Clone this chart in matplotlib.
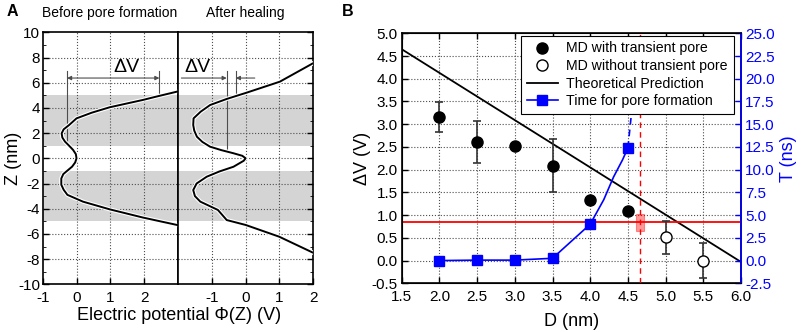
import numpy as np
import matplotlib.pyplot as plt
import matplotlib.patheffects as pe
from matplotlib.lines import Line2D
from matplotlib.patches import Rectangle

plt.rcParams['font.family'] = ['Liberation Sans', 'DejaVu Sans']
plt.rcParams['axes.unicode_minus'] = False

# ---- panel A: potential profiles ----
before_z = [5.29, 4.89, 4.63, 4.05, 3.62, 3.17, 2.64, 2.30, 1.98, 1.65, 1.32, 1.00, 0.66, 0.33, 0.0,
            -0.33, -0.66, -1.00, -1.25, -1.60, -2.10, -2.50, -2.90, -3.44, -4.05, -4.70, -5.29]
before_v = [2.97, 2.35, 1.96, 0.98, 0.45, 0.0, -0.22, -0.38, -0.44, -0.42, -0.34, -0.22, -0.10, -0.02, 0.0,
            -0.04, -0.13, -0.28, -0.39, -0.45, -0.45, -0.38, -0.27, 0.19, 0.98, 1.96, 2.97]
after_z = [7.54, 6.08, 5.21, 4.71, 4.23, 3.70, 3.17, 2.64, 2.20, 1.71, 1.30, 0.92, 0.65, 0.40, 0.20, 0.0,
           -0.20, -0.67, -1.05, -1.46, -2.00, -2.52, -3.00, -3.44, -4.10, -4.90, -5.29, -6.22, -7.49]
after_v = [1.99, 1.01, 0.03, -0.56, -1.05, -1.33, -1.54, -1.55, -1.52, -1.44, -1.28, -1.05, -0.72, -0.36, -0.10, 0.0,
           -0.06, -0.36, -0.78, -1.15, -1.45, -1.55, -1.50, -1.34, -0.82, -0.56, 0.0, 0.99, 1.99]
bands = [(1, 5), (-5, -1)]

# ---- panel B ----
d_pore = [2.0, 2.5, 3.0, 3.5, 4.0, 4.5]
dv_pore = [3.15, 2.60, 2.52, 2.09, 1.33, 1.08]
dv_pore_err = [0.33, 0.46, 0.0, 0.58, 0.0, 0.0]
d_nopore = [5.0, 5.5]
dv_nopore = [0.51, 0.0]
dv_nopore_err = [0.36, 0.38]
theory_d = [1.5, 6.0]
theory_dv = [4.65, -0.03]
t_d = [2.0, 2.5, 3.0, 3.5, 4.0, 4.5]
t_ns = [0.0, 0.05, 0.05, 0.25, 4.0, 12.4]
t_curve_d = [2.0, 2.5, 3.0, 3.5, 4.0, 4.18, 4.31, 4.43, 4.5]
t_curve_ns = [0.0, 0.05, 0.05, 0.25, 4.0, 6.7, 9.2, 11.1, 12.4]
t_ext_d = [4.5, 4.545]
t_ext_ns = [12.4, 16.0]
dv_crit = 0.85
d_crit = 4.66

fig = plt.figure(figsize=(8.01, 3.32), dpi=100)
W, H = 801, 332

def fx(px):
    return px / W

def fy(px):
    return 1 - px / H

grid_kw = dict(color='0.3', linestyle=':', linewidth=0.8)

a1 = fig.add_axes([fx(42.7), fy(284.3), fx(178 - 42.7), (284.3 - 32.3) / H])
a2 = fig.add_axes([fx(178), fy(284.3), fx(313.3 - 178), (284.3 - 32.3) / H], sharey=a1)

for ax, z, v, xl in [(a1, before_z, before_v, (-1, 3)), (a2, after_z, after_v, (-2, 2))]:
    for lo, hi in bands:
        ax.axhspan(lo, hi, color='#d4d4d4', lw=0, zorder=0)
    ax.set_xlim(*xl)
    ax.set_ylim(-10, 10)
    ax.set_xticks([-1, 0, 1, 2])
    ax.set_yticks(np.arange(-10, 11, 2))
    ax.set_yticks(np.arange(-9, 10, 2), minor=True)
    for g in ax.get_xticks():
        if xl[0] < g < xl[1]:
            ax.axvline(g, zorder=1, **grid_kw)
    for g in range(-8, 9, 2):
        ax.axhline(g, zorder=1, **grid_kw)
    ax.plot(v, z, color='black', lw=1.4, zorder=3,
            path_effects=[pe.withStroke(linewidth=3, foreground='white')])
    ax.tick_params(direction='in', labelsize=11, length=4, width=1, pad=2)
    ax.tick_params(axis='x', pad=5)
    ax.tick_params(which='minor', direction='in', length=2)
    for s in ax.spines.values():
        s.set_linewidth(1.2)

a1.tick_params(right=False, which='both')
a2.tick_params(left=False, labelleft=False, right=True, which='both')
fig.text(fx(13), fy(158), 'Z (nm)', fontsize=13, ha='center', va='center', rotation=90)
fig.text(fx(179), fy(315), 'Electric potential \u03a6(Z) (V)', fontsize=13, ha='center', va='center')
fig.text(fx(110), fy(13), 'Before pore formation', fontsize=10, ha='center', va='center')
fig.text(fx(245.5), fy(13), 'After healing', fontsize=10, ha='center', va='center')
fig.text(fx(12), fy(11), 'A', fontsize=11.5, fontweight='bold', ha='center', va='center')
fig.text(fx(348), fy(11), 'B', fontsize=11.5, fontweight='bold', ha='center', va='center')

ann = dict(color='0.3', lw=0.8)
arrow_kw = dict(color='0.3', lw=0.8, mutation_scale=6, shrinkA=0, shrinkB=0)
a1.plot([-0.28, -0.28], [1.19, 6.95], **ann)
a1.plot([2.45, 2.45], [5.02, 6.95], **ann)
a1.annotate('', xy=(2.45, 6.37), xytext=(-0.28, 6.37), arrowprops=dict(arrowstyle='<|-|>', **arrow_kw))
a1.text(1.47, 6.5, '\u0394V', fontsize=14, ha='center', va='bottom')
a2.plot([-0.56, -0.56], [0.5, 6.95], **ann)
a2.plot([-0.29, -0.29], [5.0, 6.95], **ann)
a2.annotate('', xy=(-0.56, 6.37), xytext=(-1.9, 6.37), arrowprops=dict(arrowstyle='-|>', **arrow_kw))
a2.annotate('', xy=(-0.29, 6.37), xytext=(0.27, 6.37), arrowprops=dict(arrowstyle='-|>', **arrow_kw))
a2.text(-1.44, 6.5, '\u0394V', fontsize=14, ha='center', va='bottom')

# ---- panel B ----
b = fig.add_axes([fx(401.7), fy(283.3), fx(741 - 401.7), (283.3 - 33.3) / H])
b.set_xlim(1.5, 6.0)
b.set_ylim(-0.5, 5.0)
b.set_xticks(np.arange(1.5, 6.01, 0.5))
b.set_yticks(np.arange(-0.5, 5.01, 0.5))
b.xaxis.set_major_formatter(plt.FormatStrFormatter('%.1f'))
b.yaxis.set_major_formatter(plt.FormatStrFormatter('%.1f'))
for g in np.arange(2.0, 5.51, 0.5):
    b.axvline(g, zorder=1, **grid_kw)
for g in np.arange(0.0, 4.51, 0.5):
    b.axhline(g, zorder=1, **grid_kw)
b.tick_params(direction='in', labelsize=11, length=4, width=1, top=True, pad=3)
b.tick_params(axis='x', pad=5)
for s in b.spines.values():
    s.set_linewidth(1.2)

b.plot(theory_d, theory_dv, color='black', lw=1.3, zorder=3)
b.axhline(dv_crit, color='red', lw=1.3, zorder=3)
b.axvline(d_crit, color='red', lw=1.0, ls=(0, (4, 3)), zorder=3)
b.add_patch(Rectangle((4.61, 0.65), 0.10, 0.37, facecolor='red', alpha=0.4, edgecolor='red', lw=0.8, zorder=4))
b.errorbar(d_pore, dv_pore, yerr=dv_pore_err, fmt='o', color='black', ms=8,
           ecolor='0.2', elinewidth=1.2, capsize=3, capthick=1.2, zorder=5)
b.errorbar(d_nopore, dv_nopore, yerr=dv_nopore_err, fmt='o', color='black', mfc='white', ms=8,
           ecolor='0.2', elinewidth=1.2, capsize=3, capthick=1.2, zorder=5)
b.set_xlabel('D (nm)', fontsize=13, labelpad=6)
b.set_ylabel('\u0394V (V)', fontsize=13, labelpad=0)

b2 = b.twinx()
b2.set_ylim(-2.5, 25.0)
b2.set_yticks(np.arange(-2.5, 25.01, 2.5))
b2.yaxis.set_major_formatter(plt.FormatStrFormatter('%.1f'))
b2.plot(t_curve_d, t_curve_ns, color='blue', lw=1.2, zorder=4)
b2.plot(t_ext_d, t_ext_ns, color='blue', lw=1.2, ls=(0, (4, 3)), zorder=4)
b2.plot(t_d, t_ns, 's', color='blue', ms=7, zorder=5)
b2.tick_params(direction='in', labelsize=11, length=4, width=1, colors='blue', pad=3)
b2.spines['right'].set_color('blue')
b2.spines['right'].set_linewidth(1.2)
b2.set_ylabel('T (ns)', fontsize=13, color='blue', labelpad=4)

handles = [
    Line2D([], [], ls='none', marker='o', color='black', ms=8),
    Line2D([], [], ls='none', marker='o', color='black', mfc='white', ms=8),
    Line2D([], [], color='black', lw=1.3),
    Line2D([], [], color='blue', lw=1.2, marker='s', ms=7),
]
labels = ['MD with transient pore', 'MD without transient pore', 'Theoretical Prediction', 'Time for pore formation']
leg = b2.legend(handles, labels, loc='upper right', bbox_to_anchor=(0.978, 0.99), fontsize=10.2,
                fancybox=False, edgecolor='black', framealpha=1, borderaxespad=0,
                handlelength=2.2, labelspacing=0.25, borderpad=0.4, handletextpad=0.6)
leg.get_frame().set_linewidth(0.8)
leg.set_zorder(10)

fig.savefig('out.png', dpi=100)
